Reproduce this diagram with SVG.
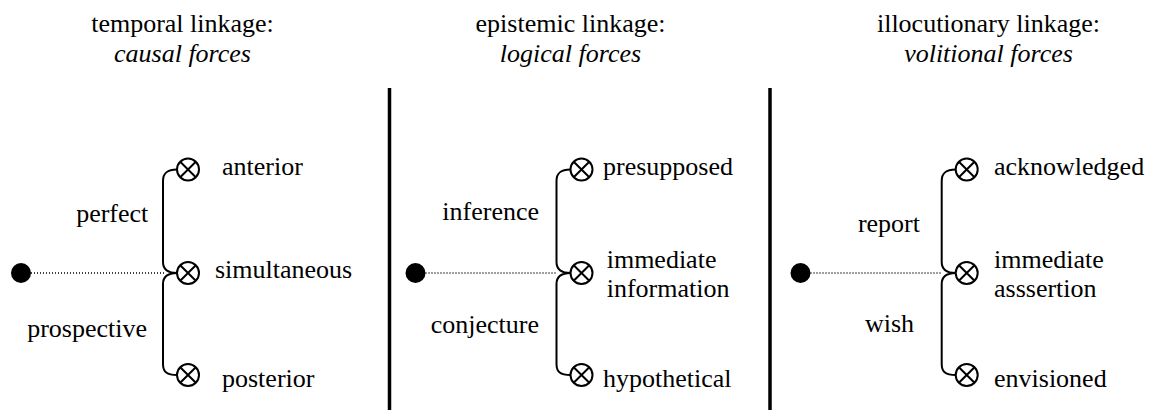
<svg xmlns="http://www.w3.org/2000/svg" width="1155" height="410" viewBox="0 0 1155 410">
<defs>
<style>
text{font-family:"Liberation Serif","DejaVu Serif",serif;font-size:26px;fill:#000}
.it{font-style:italic}
.mid{text-anchor:middle}
.end{text-anchor:end}
.dot{fill:#000}
.ox{fill:#fff;stroke:#000;stroke-width:2}
.oxl{stroke:#000;stroke-width:2;fill:none}
.dotted{stroke:#000;stroke-width:1.4;stroke-dasharray:1 2;fill:none}
.br{stroke:#000;stroke-width:2;fill:none}
.div{stroke:#000;stroke-width:3.5}
</style>
<g id="otimes">
<circle class="ox" cx="0" cy="0" r="11"/>
<path class="oxl" d="M-7.8,-7.8L7.8,7.8M7.8,-7.8L-7.8,7.8"/>
</g>
</defs>
<rect width="1155" height="410" fill="#fff"/>
<g id="titles">
<text class="mid" x="182.5" y="32">temporal linkage:</text>
<text class="mid it" x="182.5" y="62">causal forces</text>
<text class="mid" x="570.5" y="32">epistemic linkage:</text>
<text class="mid it" x="570.5" y="62">logical forces</text>
<text class="mid" x="988.5" y="32">illocutionary linkage:</text>
<text class="mid it" x="988.5" y="62">volitional forces</text>
</g>
<g id="dividers">
<line class="div" x1="389.5" y1="88" x2="389.5" y2="410"/>
<line class="div" x1="770" y1="88" x2="770" y2="410"/>
</g>
<g id="connectors">
<line class="dotted" x1="31" y1="273" x2="164" y2="273"/>
<path class="br" d="M177,169.5 C167,169.5 163,173 163,181 V262 C163,270 169,273 177,273 C169,273 163,276 163,284 V364 C163,372 167,375 177,375"/>
<line class="dotted" x1="425.5" y1="273" x2="557.5" y2="273"/>
<path class="br" d="M570.5,169.5 C560.5,169.5 556.5,173 556.5,181 V262 C556.5,270 562.5,273 570.5,273 C562.5,273 556.5,276 556.5,284 V364 C556.5,372 560.5,375 570.5,375"/>
<line class="dotted" x1="810.5" y1="273" x2="942.5" y2="273"/>
<path class="br" d="M955.7,169.5 C945.7,169.5 941.7,173 941.7,181 V262 C941.7,270 947.7,273 955.7,273 C947.7,273 941.7,276 941.7,284 V364 C941.7,372 945.7,375 955.7,375"/>
</g>
<g id="temporal-source"><circle class="dot" cx="21" cy="273" r="10"/></g>
<g id="perfect"><text class="end" x="148.3" y="221.7">perfect</text></g>
<g id="prospective"><text class="end" x="147" y="336.7">prospective</text></g>
<g id="anterior"><use href="#otimes" x="188" y="169.5"/><text x="222" y="175">anterior</text></g>
<g id="simultaneous"><use href="#otimes" x="188" y="273"/><text x="215" y="278">simultaneous</text></g>
<g id="posterior"><use href="#otimes" x="188" y="375"/><text x="222" y="387">posterior</text></g>
<g id="epistemic-source"><circle class="dot" cx="415.5" cy="273" r="10"/></g>
<g id="inference"><text class="end" x="539" y="220">inference</text></g>
<g id="conjecture"><text class="end" x="539" y="333">conjecture</text></g>
<g id="presupposed"><use href="#otimes" x="581.5" y="169.5"/><text x="603" y="175">presupposed</text></g>
<g id="immediate-information"><use href="#otimes" x="581.5" y="273"/><text x="606.7" y="268.3">immediate</text><text x="606.7" y="296.7">information</text></g>
<g id="hypothetical"><use href="#otimes" x="581.5" y="375"/><text x="603" y="386.7">hypothetical</text></g>
<g id="illocutionary-source"><circle class="dot" cx="800.5" cy="273" r="10"/></g>
<g id="report"><text class="end" x="920" y="231.7">report</text></g>
<g id="wish"><text class="end" x="914" y="331.7">wish</text></g>
<g id="acknowledged"><use href="#otimes" x="966.7" y="169.5"/><text x="994" y="175">acknowledged</text></g>
<g id="immediate-assertion"><use href="#otimes" x="966.7" y="273"/><text x="994" y="268.3">immediate</text><text x="994" y="296.7">asssertion</text></g>
<g id="envisioned"><use href="#otimes" x="966.7" y="375"/><text x="994" y="386.7">envisioned</text></g>
</svg>
